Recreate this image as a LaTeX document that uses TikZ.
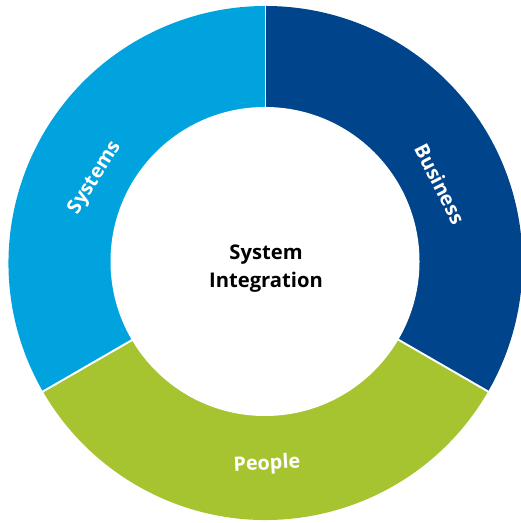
\documentclass[tikz,border=0pt]{standalone}
\usepackage{fontspec}
\setmainfont{Open Sans}
\usepackage{tikz}
\usetikzlibrary{calc}
\definecolor{sysblue}{RGB}{0,163,222}
\definecolor{busblue}{RGB}{0,69,139}
\definecolor{pplgreen}{RGB}{166,196,48}
\def\ringpart[#1](#2:#3){\fill[#1] (5.31, 5.2) -- ++(#2:5.14) arc (#2:#3:5.14) -- cycle;}
\tikzset{label/.style={text=white, font=\bfseries\fontsize{11.3}{15.3}\selectfont}}

\begin{document}
\begin{tikzpicture}
		%%%%% START %%%%%
		\useasboundingbox (0, 0) rectangle (10.4, 10.46);
		\coordinate (c) at (5.31, 5.2);
		
		\ringpart[busblue](90:-30)
		\ringpart[pplgreen](-30:-150)
		\ringpart[sysblue](210:90)
		
		\draw[white, line width=1.1pt] (c) -- ++(90:5.3);
		\draw[white, line width=1.1pt] (c) -- ++(-30:5.3);
		\draw[white, line width=1.1pt] (c) -- ++(210:5.3);
		
		\fill[white] (5.3, 5.23) circle (3.09);
		
		\node[label, rotate=58] (systems) at ($(c)+(153.5:3.81)$) {Systems};
		\node[label, rotate=-63] (business) at ($(c)+(24.4:3.83)$) {Business};
		\node[label, rotate=3] (people) at ($(c)+(-89.6:4.03)$) {People};
		
		\node[align=center, font=\bfseries\fontsize{11.5}{15.5}\selectfont] (core) at (5.32, 5.09) {System\\Integration};
		%%%%% END %%%%%
	\end{tikzpicture}
\end{document}
